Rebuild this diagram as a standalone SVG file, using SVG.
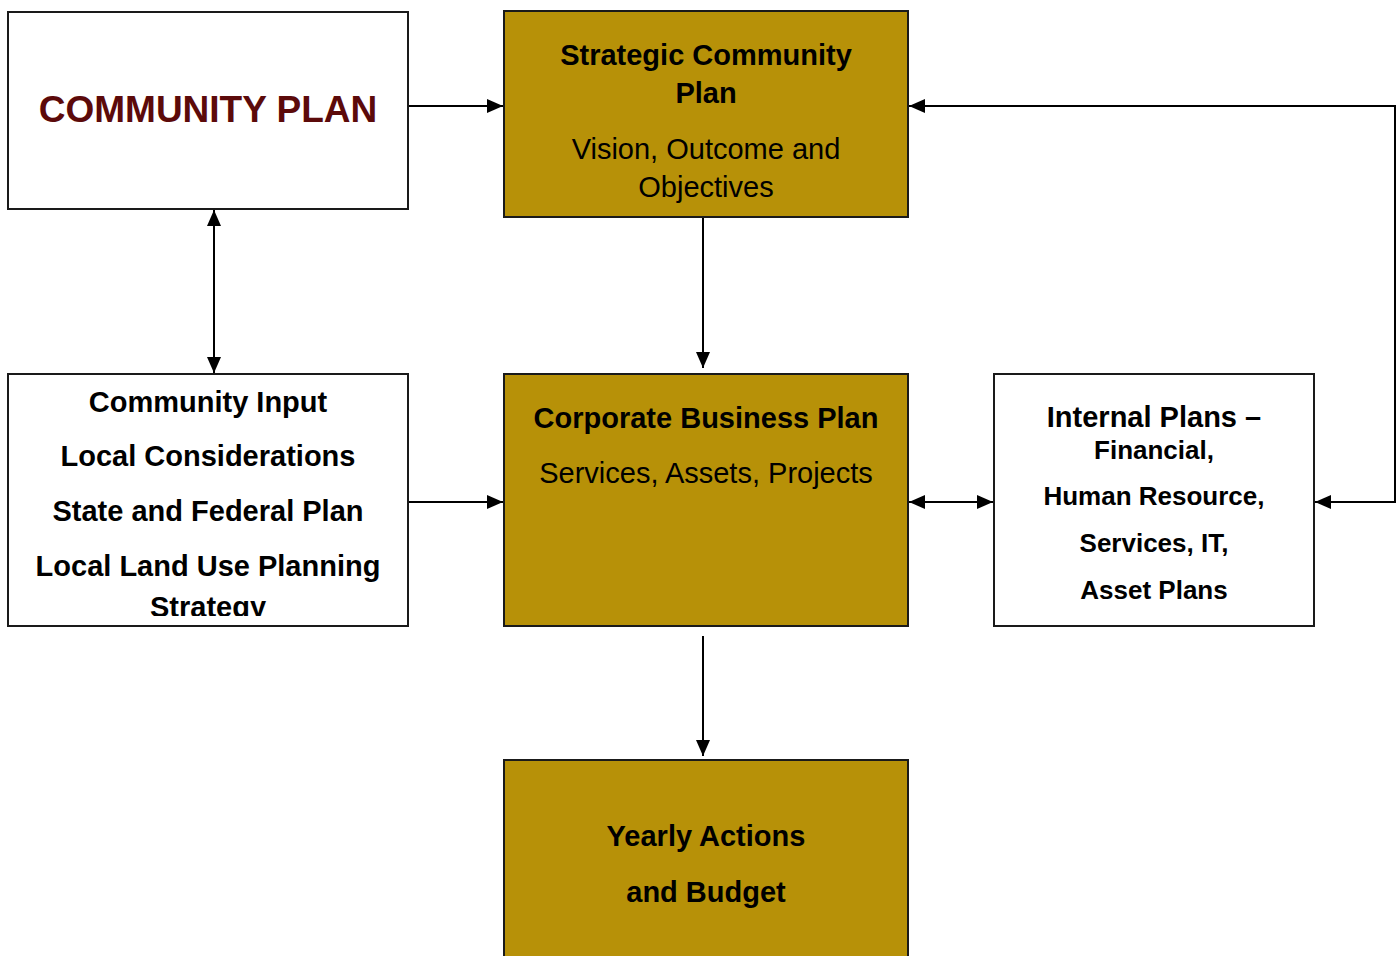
<svg xmlns="http://www.w3.org/2000/svg" width="1400" height="956" viewBox="0 0 1400 956">
  <style>
    .box { stroke: #1a1a1a; stroke-width: 2; }
    .white { fill: #ffffff; }
    .gold { fill: #b79108; }
    .t { font-family: "Liberation Sans", Arial, sans-serif; font-size: 29px; fill: #000; text-anchor: middle; }
    .b { font-weight: bold; }
    .s26 { font-size: 26px; }
    .title { font-family: "Liberation Sans", Arial, sans-serif; font-size: 37px; font-weight: bold; fill: #5c0a0a; text-anchor: middle; }
    .edge { stroke: #000; stroke-width: 2; fill: none; }
  </style>
  <defs>
    <marker id="arrow" markerUnits="userSpaceOnUse" markerWidth="16" markerHeight="14" refX="16" refY="7" orient="auto-start-reverse">
      <path d="M0,0 L16,7 L0,14 Z" fill="#000"/>
    </marker>
    <clipPath id="clipInput">
      <rect x="8" y="374" width="400" height="242"/>
    </clipPath>
  </defs>

  <rect width="1400" height="956" fill="#ffffff"/>

  <g id="connectors">
    <line class="edge" x1="409" y1="106" x2="503" y2="106" marker-end="url(#arrow)"/>
    <line class="edge" x1="214" y1="210" x2="214" y2="373" marker-start="url(#arrow)" marker-end="url(#arrow)"/>
    <line class="edge" x1="703" y1="218" x2="703" y2="368" marker-end="url(#arrow)"/>
    <line class="edge" x1="409" y1="502" x2="503" y2="502" marker-end="url(#arrow)"/>
    <line class="edge" x1="909" y1="502" x2="993" y2="502" marker-start="url(#arrow)" marker-end="url(#arrow)"/>
    <polyline class="edge" points="1315,502 1395,502 1395,106 909,106" marker-start="url(#arrow)" marker-end="url(#arrow)"/>
    <line class="edge" x1="703" y1="636" x2="703" y2="756" marker-end="url(#arrow)"/>
  </g>

  <g id="community-plan">
    <rect class="box white" x="8" y="12" width="400" height="197"/>
    <text class="title" x="208" y="122">COMMUNITY PLAN</text>
  </g>

  <g id="strategic-community-plan">
    <rect class="box gold" x="504" y="11" width="404" height="206"/>
    <text class="t b" x="706" y="65">Strategic Community</text>
    <text class="t b" x="706" y="103">Plan</text>
    <text class="t" x="706" y="159">Vision, Outcome and</text>
    <text class="t" x="706" y="197">Objectives</text>
  </g>

  <g id="community-input">
    <rect class="box white" x="8" y="374" width="400" height="252"/>
    <g clip-path="url(#clipInput)">
      <text class="t b" x="208" y="412">Community Input</text>
      <text class="t b" x="208" y="466">Local Considerations</text>
      <text class="t b" x="208" y="521">State and Federal Plan</text>
      <text class="t b" x="208" y="576">Local Land Use Planning</text>
      <text class="t b" x="208" y="617">Strategy</text>
    </g>
  </g>

  <g id="corporate-business-plan">
    <rect class="box gold" x="504" y="374" width="404" height="252"/>
    <text class="t b" x="706" y="428">Corporate Business Plan</text>
    <text class="t" x="706" y="483">Services, Assets, Projects</text>
  </g>

  <g id="internal-plans">
    <rect class="box white" x="994" y="374" width="320" height="252"/>
    <text class="t b" x="1154" y="427">Internal Plans –</text>
    <text class="t b s26" x="1154" y="459">Financial,</text>
    <text class="t b s26" x="1154" y="505">Human Resource,</text>
    <text class="t b s26" x="1154" y="552">Services, IT,</text>
    <text class="t b s26" x="1154" y="599">Asset Plans</text>
  </g>

  <g id="yearly-actions">
    <rect class="box gold" x="504" y="760" width="404" height="240"/>
    <text class="t b" x="706" y="846">Yearly Actions</text>
    <text class="t b" x="706" y="902">and Budget</text>
  </g>
</svg>
